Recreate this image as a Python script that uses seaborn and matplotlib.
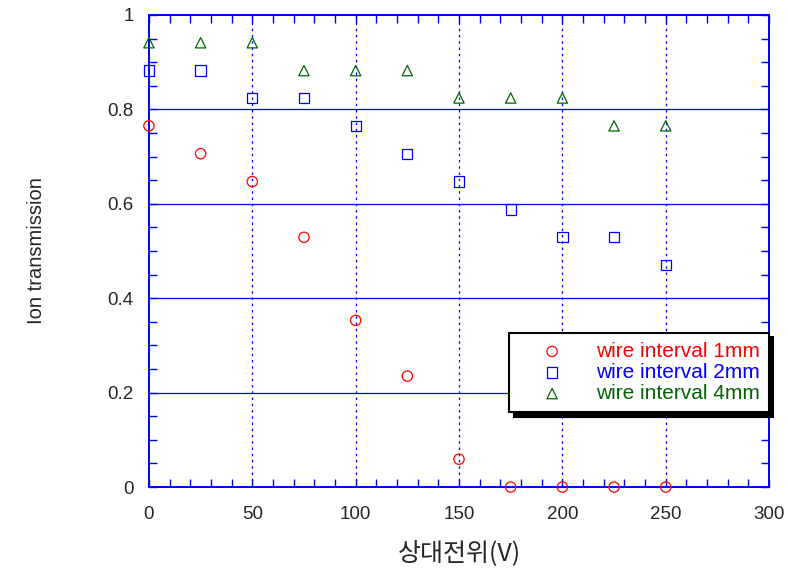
import matplotlib
matplotlib.use("Agg")
import matplotlib.pyplot as plt
from matplotlib.ticker import MultipleLocator
import seaborn as sns
import pandas as pd

# relative potential (V)
voltage = [0, 25, 50, 75, 100, 125, 150, 175, 200, 225, 250]

# ion transmission per wire interval
trans_1mm = [0.765, 0.706, 0.647, 0.529, 0.353, 0.235, 0.059, 0.0, 0.0, 0.0, 0.0]
trans_2mm = [0.882, 0.882, 0.824, 0.824, 0.765, 0.706, 0.647, 0.588, 0.529, 0.529, 0.471]
trans_4mm = [0.941, 0.941, 0.941, 0.882, 0.882, 0.882, 0.824, 0.824, 0.824, 0.765, 0.765]

labels = ["wire interval 1mm", "wire interval 2mm", "wire interval 4mm"]
colors = ["#ff0000", "#0000ff", "#006400"]
markers = ["o", "s", "^"]

sns.set_style("ticks")
plt.rcParams['font.family'] = ['Liberation Sans', 'DejaVu Sans']

fig = plt.figure(figsize=(7.88, 5.73), dpi=100)
ax = fig.add_axes([0.189, 0.150, 0.787, 0.824])

blue = "#0000ff"
for yv in [0.2, 0.4, 0.6, 0.8]:
    ax.axhline(yv, color=blue, lw=0.9, zorder=1)
for xv in [50, 100, 150, 200, 250]:
    ax.axvline(xv, color=blue, lw=0.9, ls=(0, (2, 3)), zorder=1)

series = [trans_1mm, trans_2mm, trans_4mm]
for vals, lab, col, mk in zip(series, labels, colors, markers):
    df = pd.DataFrame({"V": voltage, "T": vals})
    sns.scatterplot(data=df, x="V", y="T", marker=mk, s=55,
                    facecolors="none", edgecolor=col, linewidth=0.9,
                    label=lab, ax=ax, zorder=3, clip_on=False)

ax.set_xlim(0, 300)
ax.set_ylim(0, 1)
ax.xaxis.set_major_locator(MultipleLocator(50))
ax.xaxis.set_minor_locator(MultipleLocator(10))
ax.yaxis.set_minor_locator(MultipleLocator(0.05))
ax.set_yticks([0, 0.2, 0.4, 0.6, 0.8, 1.0])
ax.set_yticklabels(["0", "0.2", "0.4", "0.6", "0.8", "1"])
ax.tick_params(which="both", direction="in", top=True, right=True,
               color=blue, length=6, width=1)
ax.tick_params(axis="x", which="major", labelsize=13.5, pad=14)
ax.tick_params(axis="y", which="major", labelsize=13.5, pad=11)
for sp in ax.spines.values():
    sp.set_color(blue)
    sp.set_linewidth(1.4)

ax.set_xlabel("상대전위(V)", fontsize=18, labelpad=13,
              family=["Noto Sans CJK KR", "DejaVu Sans"])
ax.set_ylabel("Ion transmission", fontsize=14.5, labelpad=0)
ax.yaxis.set_label_coords(-0.166, 0.5)

leg = ax.legend(loc="lower right", bbox_to_anchor=(1.0, 0.158),
                fontsize=15, frameon=True, fancybox=False,
                shadow={"color": "black", "alpha": 1, "ox": 3, "oy": -3},
                handlelength=3.2, handletextpad=0.5, borderpad=0.45,
                labelspacing=0.1, markerscale=1.0, borderaxespad=0)
leg.get_frame().set_edgecolor("black")
leg.get_frame().set_linewidth(1.5)
for txt, col in zip(leg.get_texts(), colors):
    txt.set_color(col)

fig.savefig("out.png", dpi=100)
